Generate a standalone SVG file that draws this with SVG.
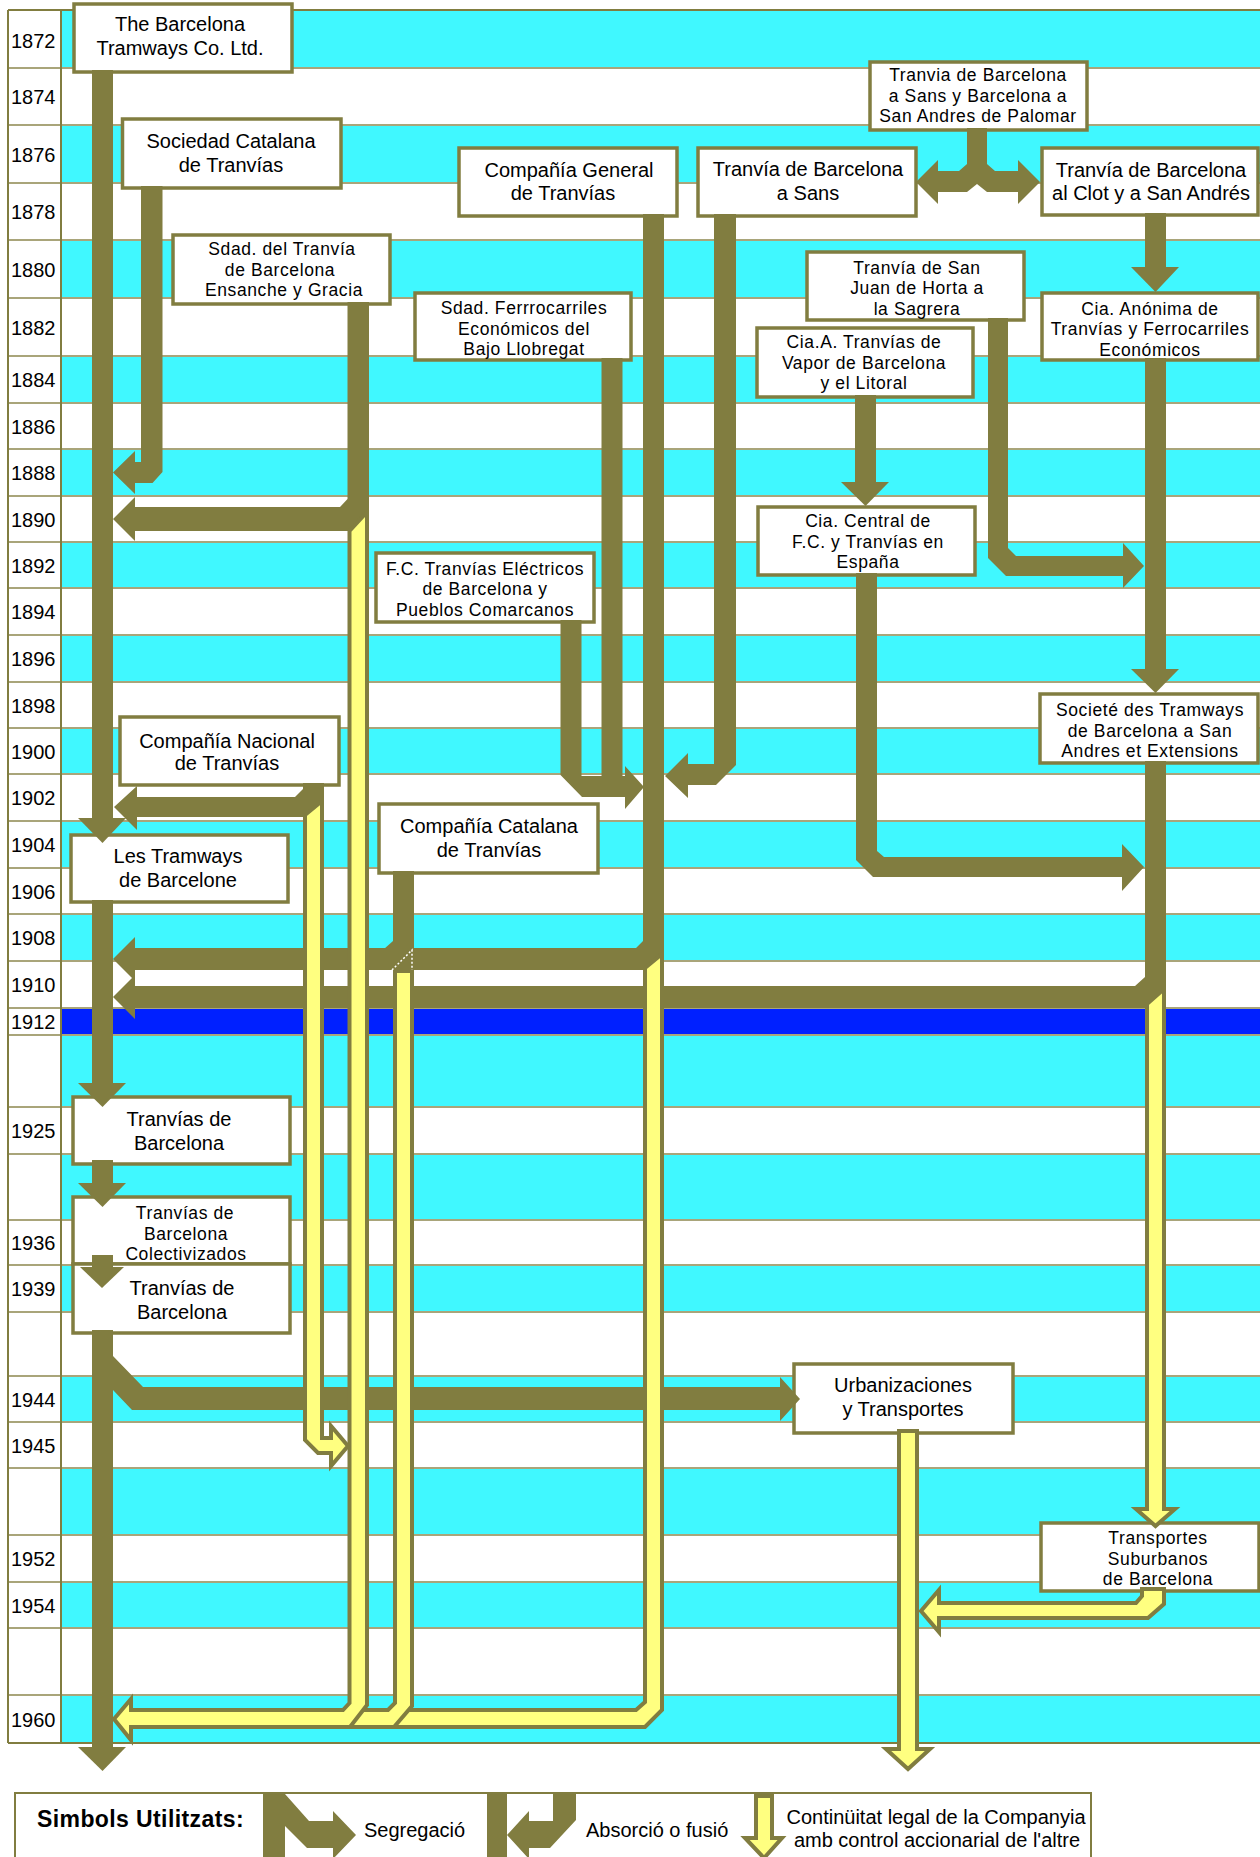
<svg xmlns="http://www.w3.org/2000/svg" width="1260" height="1857" viewBox="0 0 1260 1857">
<defs>
<style>
.cy{fill:#40F8FF}
.bl{fill:#0020FF}
.gr{stroke:#A9A57A;stroke-width:2;fill:none}
.bd{stroke:#817D40;stroke-width:2;fill:none}
.ol{fill:#817D40}
.ye{fill:#FFFF80;stroke:#817D40;stroke-width:4;stroke-linejoin:miter}
.box{fill:#FFFFFF;stroke:#817D40;stroke-width:3.5}
.t{font-family:"Liberation Sans",Arial,sans-serif;font-size:20px;fill:#000;text-anchor:middle}
.t3{font-family:"Liberation Sans",Arial,sans-serif;font-size:17.5px;letter-spacing:0.6px;fill:#000;text-anchor:middle}
.yr{font-family:"Liberation Sans",Arial,sans-serif;font-size:20px;fill:#000}
.lg{font-family:"Liberation Sans",Arial,sans-serif;font-size:20px;fill:#000}
</style>
</defs>
<rect x="0" y="0" width="1260" height="1857" fill="#FFFFFF"/>
<g id="table">
<rect x="8" y="10" width="1252" height="1733" fill="#FFFFFF"/>
<rect class="cy" x="61" y="10" width="1199" height="58"/>
<rect class="cy" x="61" y="125" width="1199" height="58"/>
<rect class="cy" x="61" y="240" width="1199" height="58"/>
<rect class="cy" x="61" y="356" width="1199" height="47"/>
<rect class="cy" x="61" y="449" width="1199" height="47"/>
<rect class="cy" x="61" y="542" width="1199" height="46"/>
<rect class="cy" x="61" y="635" width="1199" height="47"/>
<rect class="cy" x="61" y="728" width="1199" height="46"/>
<rect class="cy" x="61" y="821" width="1199" height="47"/>
<rect class="cy" x="61" y="914" width="1199" height="47"/>
<rect class="bl" x="61" y="1008" width="1199" height="27"/>
<rect class="cy" x="61" y="1035" width="1199" height="72"/>
<rect class="cy" x="61" y="1154" width="1199" height="66"/>
<rect class="cy" x="61" y="1265" width="1199" height="47"/>
<rect class="cy" x="61" y="1376" width="1199" height="46"/>
<rect class="cy" x="61" y="1468" width="1199" height="67"/>
<rect class="cy" x="61" y="1582" width="1199" height="46"/>
<rect class="cy" x="61" y="1695" width="1199" height="48"/>
<path class="gr" d="M8 68H1260M8 125H1260M8 183H1260M8 240H1260M8 298H1260M8 356H1260M8 403H1260M8 449H1260M8 496H1260M8 542H1260M8 588H1260M8 635H1260M8 682H1260M8 728H1260M8 774H1260M8 821H1260M8 868H1260M8 914H1260M8 961H1260M8 1008H1260M8 1035H1260M8 1107H1260M8 1154H1260M8 1220H1260M8 1265H1260M8 1312H1260M8 1376H1260M8 1422H1260M8 1468H1260M8 1535H1260M8 1582H1260M8 1628H1260M8 1695H1260"/>
<path class="bd" d="M8 10H1260M8 1743H1260M8 10V1743M61 10V1743"/>
<text class="yr" x="11" y="48">1872</text>
<text class="yr" x="11" y="104">1874</text>
<text class="yr" x="11" y="162">1876</text>
<text class="yr" x="11" y="219">1878</text>
<text class="yr" x="11" y="277">1880</text>
<text class="yr" x="11" y="335">1882</text>
<text class="yr" x="11" y="387">1884</text>
<text class="yr" x="11" y="434">1886</text>
<text class="yr" x="11" y="480">1888</text>
<text class="yr" x="11" y="527">1890</text>
<text class="yr" x="11" y="573">1892</text>
<text class="yr" x="11" y="619">1894</text>
<text class="yr" x="11" y="666">1896</text>
<text class="yr" x="11" y="713">1898</text>
<text class="yr" x="11" y="759">1900</text>
<text class="yr" x="11" y="805">1902</text>
<text class="yr" x="11" y="852">1904</text>
<text class="yr" x="11" y="899">1906</text>
<text class="yr" x="11" y="945">1908</text>
<text class="yr" x="11" y="992">1910</text>
<text class="yr" x="11" y="1029">1912</text>
<text class="yr" x="11" y="1138">1925</text>
<text class="yr" x="11" y="1250">1936</text>
<text class="yr" x="11" y="1296">1939</text>
<text class="yr" x="11" y="1407">1944</text>
<text class="yr" x="11" y="1453">1945</text>
<text class="yr" x="11" y="1566">1952</text>
<text class="yr" x="11" y="1613">1954</text>
<text class="yr" x="11" y="1727">1960</text>
</g>
<g id="n_barcelona_tramways"><rect class="box" x="74" y="4" width="218" height="68"/><text class="t" x="180" y="31">The Barcelona</text><text class="t" x="180" y="55">Tramways Co. Ltd.</text></g>
<g id="n_sociedad_catalana"><rect class="box" x="122.5" y="119" width="218.5" height="69"/><text class="t" x="231" y="148">Sociedad Catalana</text><text class="t" x="231" y="172">de Tranvías</text></g>
<g id="n_ensanche"><rect class="box" x="173" y="235" width="217" height="69"/><text class="t3" x="282" y="255">Sdad. del Tranvía</text><text class="t3" x="280" y="275.5">de Barcelona</text><text class="t3" x="284" y="296">Ensanche y Gracia</text></g>
<g id="n_general"><rect class="box" x="459" y="148" width="218" height="68"/><text class="t" x="569" y="177">Compañía General</text><text class="t" x="563" y="200">de Tranvías</text></g>
<g id="n_bajo_llobregat"><rect class="box" x="415" y="293" width="216" height="67"/><text class="t3" x="524" y="314">Sdad. Ferrrocarriles</text><text class="t3" x="524" y="334.5">Económicos del</text><text class="t3" x="524" y="355">Bajo Llobregat</text></g>
<g id="n_palomar"><rect class="box" x="870" y="62" width="217" height="68"/><text class="t3" x="978" y="81">Tranvia de Barcelona</text><text class="t3" x="978" y="101.5">a Sans y Barcelona a</text><text class="t3" x="978" y="122">San Andres de Palomar</text></g>
<g id="n_sans"><rect class="box" x="698" y="148" width="218" height="68"/><text class="t" x="808" y="176">Tranvía de Barcelona</text><text class="t" x="808" y="200">a Sans</text></g>
<g id="n_clot"><rect class="box" x="1042" y="148" width="216" height="67"/><text class="t" x="1151" y="177">Tranvía de Barcelona</text><text class="t" x="1151" y="200">al Clot y a San Andrés</text></g>
<g id="n_san_juan"><rect class="box" x="807" y="252" width="217" height="68"/><text class="t3" x="917" y="273.5">Tranvía de San</text><text class="t3" x="917" y="294">Juan de Horta a</text><text class="t3" x="917" y="314.5">la Sagrera</text></g>
<g id="n_anonima"><rect class="box" x="1042" y="293" width="216" height="67"/><text class="t3" x="1150" y="314.5">Cia. Anónima de</text><text class="t3" x="1150" y="335">Tranvías y Ferrocarriles</text><text class="t3" x="1150" y="355.5">Económicos</text></g>
<g id="n_vapor"><rect class="box" x="757" y="328" width="216" height="69"/><text class="t3" x="864" y="348">Cia.A. Tranvías de</text><text class="t3" x="864" y="368.5">Vapor de Barcelona</text><text class="t3" x="864" y="389">y el Litoral</text></g>
<g id="n_central"><rect class="box" x="758" y="507" width="217" height="68"/><text class="t3" x="868" y="527">Cia. Central de</text><text class="t3" x="868" y="547.5">F.C. y Tranvías en</text><text class="t3" x="868" y="568">España</text></g>
<g id="n_electricos"><rect class="box" x="376" y="553" width="218" height="69"/><text class="t3" x="485" y="574.5">F.C. Tranvías Eléctricos</text><text class="t3" x="485" y="595">de Barcelona y</text><text class="t3" x="485" y="615.5">Pueblos Comarcanos</text></g>
<g id="n_societe"><rect class="box" x="1040" y="694" width="218" height="69"/><text class="t3" x="1150" y="716">Societé des Tramways</text><text class="t3" x="1150" y="736.5">de Barcelona a San</text><text class="t3" x="1150" y="757">Andres et Extensions</text></g>
<g id="n_nacional"><rect class="box" x="120" y="717" width="219" height="68"/><text class="t" x="227" y="748">Compañía Nacional</text><text class="t" x="227" y="770">de Tranvías</text></g>
<g id="n_catalana"><rect class="box" x="379" y="804" width="219" height="69"/><text class="t" x="489" y="833">Compañía Catalana</text><text class="t" x="489" y="857">de Tranvías</text></g>
<g id="n_les_tramways"><rect class="box" x="71" y="835" width="217" height="67"/><text class="t" x="178" y="863">Les Tramways</text><text class="t" x="178" y="887">de Barcelone</text></g>
<g id="n_tranvias_1925"><rect class="box" x="73" y="1097" width="217" height="67"/><text class="t" x="179" y="1126">Tranvías de</text><text class="t" x="179" y="1150">Barcelona</text></g>
<g id="n_colectivizados"><rect class="box" x="73" y="1197" width="217" height="67"/><text class="t3" x="185" y="1219">Tranvías de</text><text class="t3" x="186" y="1239.5">Barcelona</text><text class="t3" x="186" y="1260">Colectivizados</text></g>
<g id="n_tranvias_1939"><rect class="box" x="73" y="1264" width="217" height="69"/><text class="t" x="182" y="1295">Tranvías de</text><text class="t" x="182" y="1319">Barcelona</text></g>
<g id="n_urbanizaciones"><rect class="box" x="794" y="1364" width="219" height="69"/><text class="t" x="903" y="1392">Urbanizaciones</text><text class="t" x="903" y="1416">y Transportes</text></g>
<g id="n_suburbanos"><rect class="box" x="1041" y="1523" width="218" height="68"/><text class="t3" x="1158" y="1544">Transportes</text><text class="t3" x="1158" y="1564.5">Suburbanos</text><text class="t3" x="1158" y="1585">de Barcelona</text></g>
<g id="connectors">
<rect class="ol" x="92" y="70" width="21" height="749"/>
<polygon class="ol" points="78,818 126,818 102.5,843"/>
<rect class="ol" x="92" y="900" width="21" height="184"/>
<polygon class="ol" points="78,1083 126,1083 102.5,1107"/>
<rect class="ol" x="92" y="1160" width="21" height="24"/>
<polygon class="ol" points="78,1183 126,1183 102.5,1207"/>
<rect class="ol" x="92" y="1255" width="21" height="13"/>
<polygon class="ol" points="80,1267 124,1267 102,1288"/>
<rect class="ol" x="92" y="1330" width="21" height="418"/>
<polygon class="ol" points="78,1747 126,1747 102.5,1771"/>
<polygon class="ol" points="113,1356 143,1387 780,1387 780,1377 800,1399 780,1421 780,1410 132,1410 113,1390"/>
<polygon class="ol" points="141,186 162.5,186 162.5,472 152.5,483 135,483 135,494 113,472.5 135,451 135,462 141,462"/>
<polygon class="ol" points="347.5,302 369,302 369,510 348,531 135,531 135,541 113,519 135,497 135,507 340,507 347.5,499"/>
<polygon class="ol" points="643,214 664,214 664,952 646,970 135,970 135,981 113,959 135,937 135,948 636,948 643,941"/>
<polygon class="ol" points="393,871 414,871 414,965 393,965 393,949 384,949 393,941"/>
<polygon class="ol" points="1145,761 1166,761 1166,991 1148,1008 135,1008 135,1019 113,997 135,975 135,986 1135,986 1145,977"/>
<polygon class="ol" points="303,783 324,783 324,800 306,817 137,817 137,830 114,807 137,786 137,797 295,797 303,789"/>
<polygon class="ol" points="714,214 736,214 736,765 716,785 688,785 688,798 665,776 688,753 688,764 714,764"/>
<polygon class="ol" points="560.5,620 581.5,620 581.5,776 625,776 625,766 644,787 625,809 625,797 582,797 560.5,775"/>
<rect class="ol" x="601.5" y="358" width="21" height="419"/>
<polygon class="ol" points="967,128 987,128 987,164 995,171 1018,171 1018,160 1040,182 1018,204 1018,192 987,192 977,184 967,192 938,192 938,204 916,182 938,160 938,171 959,171 967,164"/>
<rect class="ol" x="1145" y="213" width="21" height="55"/>
<polygon class="ol" points="1131,267 1179,267 1155.5,292"/>
<rect class="ol" x="1145" y="358" width="21" height="312"/>
<polygon class="ol" points="1131,669 1179,669 1155.5,693"/>
<polygon class="ol" points="988,318 1008,318 1008,548 1016,556 1123,556 1123,543 1144,566 1123,588 1123,576 1006,576 988,558"/>
<rect class="ol" x="855" y="395" width="21" height="88"/>
<polygon class="ol" points="841,482 889,482 865.5,506"/>
<polygon class="ol" points="856,573 877,573 877,851 884,857 1122,857 1122,844 1144,867 1122,891 1122,877 873,877 856,860"/>
<polygon class="ye" points="645,968 662,954 662,1710 645,1727 380,1727 380,1710 636,1710 645,1702"/>
<polygon class="ye" points="395,971 412,971 412,1706 394,1727 335,1727 335,1710 388,1710 395,1703"/>
<polygon class="ye" points="349.5,531 367,512 367,1705 350,1727 131,1727 131,1740 114,1719 131,1699 131,1710 343,1710 349.5,1703"/>
<polygon class="ye" points="305,815 322,801 322,1438 331,1438 331,1426 348,1446 331,1466 331,1453 318,1453 305,1440"/>
<polygon class="ye" points="1147,1004 1164,989 1164,1509 1175,1509 1155.5,1526 1136,1509 1147,1509"/>
<polygon class="ye" points="899,1431 917,1431 917,1749 930,1749 908,1769 886,1749 899,1749"/>
<polygon class="ye" points="1142,1589 1164,1589 1164,1604 1148,1618 939,1618 939,1632 921,1611 939,1590 939,1603 1136,1603 1142,1596"/>
<polyline points="392,970 412,950 412,970" fill="none" stroke="#FFFFFF" stroke-width="1.5" stroke-dasharray="2 2"/>
</g>
<g id="legend">
<rect x="15" y="1793" width="1076" height="80" fill="#FFFFFF" stroke="#817D40" stroke-width="2"/>
<text x="37" y="1827" font-family="Liberation Sans, Arial, sans-serif" font-size="23" font-weight="bold" letter-spacing="0.4" fill="#000">Simbols Utilitzats:</text>
<rect class="ol" x="263" y="1794" width="22" height="70"/>
<polygon class="ol" points="285,1794 309,1821 333,1821 333,1811 356,1835 333,1859 333,1848 307,1848 285,1826"/>
<text class="lg" x="364" y="1837">Segregació</text>
<rect class="ol" x="487" y="1794" width="20" height="70"/>
<polygon class="ol" points="553,1794 576,1794 576,1820 550,1848 529,1848 529,1859 507,1835 529,1811 529,1821 553,1821"/>
<text class="lg" x="586" y="1837">Absorció o fusió</text>
<polygon class="ye" points="756,1796 772,1796 772,1838 782,1838 764,1858 745,1838 756,1838"/>
<text class="t" x="936" y="1824">Continüitat legal de la Companyia</text>
<text class="t" x="937" y="1847">amb control accionarial de l'altre</text>
</g>
</svg>
